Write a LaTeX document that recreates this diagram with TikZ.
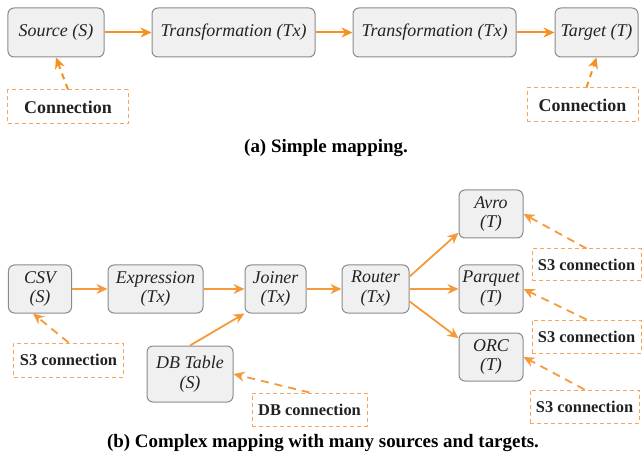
\documentclass[tikz,border=0pt]{standalone}
\usepackage{fontspec}
\setmainfont{Liberation Serif}
\usetikzlibrary{arrows.meta,calc}
\definecolor{arr}{HTML}{F7901E}
\definecolor{arrb}{HTML}{F59A3A}
\definecolor{conn}{HTML}{F7A35A}
\definecolor{boxfill}{HTML}{F0F0F0}
\definecolor{boxdraw}{HTML}{8A8A8A}
\definecolor{txt}{HTML}{222222}
\tikzset{
  opbox/.style={draw=boxdraw, fill=boxfill, rounded corners=6bp, line width=1bp, inner sep=0pt, font=\fontsize{18}{20}\selectfont\itshape, align=center, text=txt},
  connbox/.style={draw=conn, dashed, dash pattern=on 4bp off 3bp, line width=1bp, inner sep=0pt, font=\fontsize{18}{20}\selectfont\bfseries, text=txt},
  smallconn/.style={connbox, font=\fontsize{16.5}{20}\selectfont\bfseries},
  flow/.style={draw=arr, line width=2bp, -{Stealth[length=11bp,width=10bp,inset=3.5bp]}},
  flowb/.style={draw=arrb, line width=1.8bp, -{Stealth[length=11bp,width=10bp,inset=3.5bp]}},
  link/.style={draw=arr, line width=2bp, dash pattern=on 6bp off 5bp, -{Stealth[length=11bp,width=10bp,inset=3.5bp]}},
  linkb/.style={draw=arrb, line width=1.8bp, dash pattern=on 8bp off 6bp, -{Stealth[length=11bp,width=10bp,inset=3.5bp]}},
  caption/.style={font=\fontsize{19}{21}\selectfont\bfseries, text=black}
}
\begin{document}
\begin{tikzpicture}[x=1bp,y=-1bp]
\useasboundingbox (0,0) rectangle (642,461);
% (a)
\node[opbox, minimum width=96bp, minimum height=49bp] (src) at (56,32.5) {Source (S)};
\node[opbox, minimum width=163bp, minimum height=49bp] (tx1) at (233.5,32.5) {Transformation (Tx)};
\node[opbox, minimum width=163bp, minimum height=49bp] (tx2) at (434.5,32.5) {Transformation (Tx)};
\node[opbox, minimum width=83bp, minimum height=49bp] (tgt) at (596.5,32.5) {Target (T)};
\node[connbox, minimum width=120bp, minimum height=34bp] (c1) at (68,107) {Connection};
\node[connbox, minimum width=111bp, minimum height=34bp] (c2) at (582.5,105) {Connection};
\draw[flow] (src) -- (tx1);
\draw[flow] (tx1) -- (tx2);
\draw[flow] (tx2) -- (tgt);
\coordinate (c2n) at ($(c2.north)+(4,0)$);
\draw[link] (c1.north) -- (src.south);
\draw[link] (c2n) -- (tgt.south);
\node[caption] (capa) at (326,148) {(a) Simple mapping.};
% (b)
\node[opbox, minimum width=63bp, minimum height=48bp] (csv) at (40,289) {CSV\\(S)};
\node[opbox, minimum width=95bp, minimum height=48bp] (expr) at (155.5,289) {Expression\\(Tx)};
\node[opbox, minimum width=61bp, minimum height=48bp] (join) at (275.5,289) {Joiner\\(Tx)};
\node[opbox, minimum width=67bp, minimum height=48bp] (rout) at (375.5,289) {Router\\(Tx)};
\node[opbox, minimum width=64bp, minimum height=48bp] (avro) at (491,214) {Avro\\(T)};
\node[opbox, minimum width=64bp, minimum height=48bp] (parq) at (491,289) {Parquet\\(T)};
\node[opbox, minimum width=64bp, minimum height=48bp] (orc) at (491,357) {ORC\\(T)};
\node[opbox, minimum width=86bp, minimum height=56bp] (db) at (190,374) {DB Table\\(S)};
\node[smallconn, minimum width=109bp, minimum height=34bp] (s3a) at (68.5,360) {S3 connection};
\node[smallconn, minimum width=115bp, minimum height=33bp] (dbc) at (309.5,409.5) {DB connection};
\node[smallconn, minimum width=109bp, minimum height=32bp] (s3b) at (586.5,265) {S3 connection};
\node[smallconn, minimum width=109bp, minimum height=33bp] (s3c) at (586.5,336.5) {S3 connection};
\node[smallconn, minimum width=109bp, minimum height=33bp] (s3d) at (584.5,406.5) {S3 connection};
\coordinate (csvs) at ($(csv.south)+(-7,0)$);
\draw[flowb] (csv) -- (expr);
\draw[flowb] (expr) -- (join);
\draw[flowb] (join) -- (rout);
\draw[flowb] (rout) -- (parq);
\draw[flowb] (rout.20) -- (avro.210);
\draw[flowb] (rout.-20) -- (orc.150);
\draw[flowb] (db.north) -- (join.south west);
\draw[linkb] (s3a.north) -- (csvs);
\draw[linkb] (dbc.north) -- (db.east);
\draw[linkb] (s3b.north) -- (avro.east);
\draw[linkb] (s3c.north) -- (parq.east);
\draw[linkb] (s3d.north) -- (orc.east);
\node[caption] (capb) at (323,443) {(b) Complex mapping with many sources and targets.};
\end{tikzpicture}
\end{document}
